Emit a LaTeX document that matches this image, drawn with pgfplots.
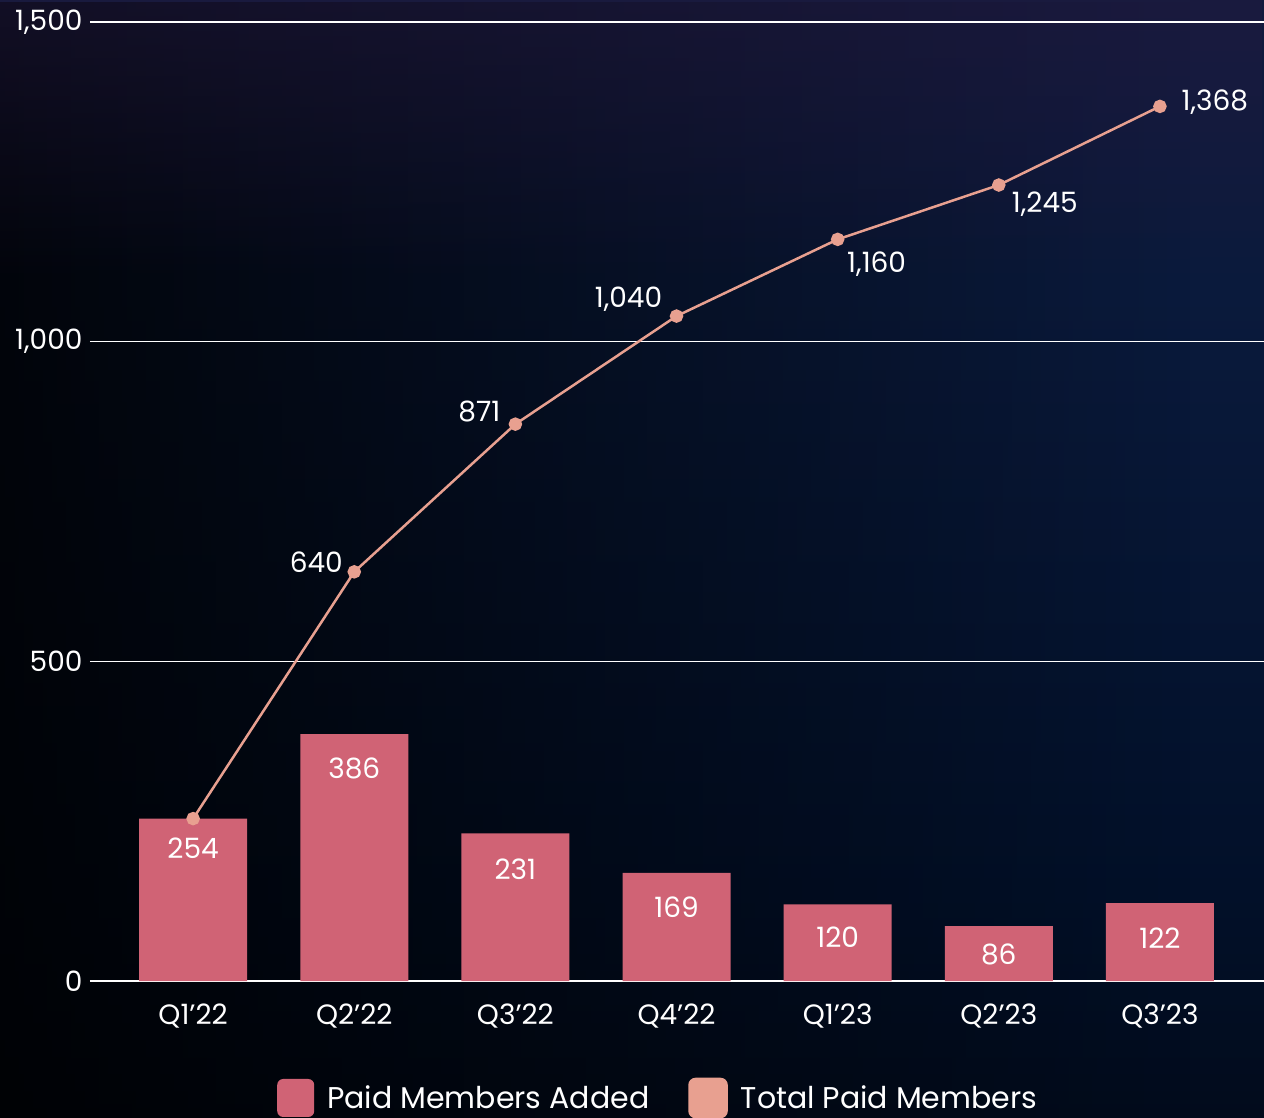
\documentclass[border=0pt]{standalone}
\usepackage{pgfplots}
\pgfplotsset{compat=1.18}
\usepackage{pgfplotstable}
\usepackage{fontspec}
\setmainfont{Poppins}
\usetikzlibrary{fadings}
\definecolor{barc}{HTML}{D06375}
\definecolor{linec}{HTML}{E8A090}
\definecolor{cA}{HTML}{221A40}
\definecolor{cB}{HTML}{0A1A3C}
\definecolor{cC}{HTML}{021029}
\definecolor{cD}{HTML}{03050B}
\pgfdeclareverticalshading{bgv}{100bp}{color(0bp)=(cD); color(12bp)=(cD); color(35bp)=(cC); color(62bp)=(cB); color(100bp)=(cA)}

\pgfplotstableread{
x y dy
0 254 -30
1 386 -34
2 231 -36
3 169 -34
4 120 -33
5 86 -28
6 122 -35
}\bardata

\pgfplotstableread{
x y lab dx dy
0 254 {} 0 0
1 640 640 -38 10
2 871 871 -36 13
3 1040 {1,040} -48 17
4 1160 {1,160} 39 -25
5 1245 {1,245} 46 -19
6 1368 {1,368} 55 4
}\linedata

\begin{document}
\begin{tikzpicture}
\shade[shading=bgv] (-90pt,-136pt) rectangle (1174pt,981pt);
\fill[black, opacity=0.82, path fading=east] (-90pt,-136pt) rectangle (1100pt,981pt);
\fill[cA, opacity=0.5, path fading=south] (-90pt,700pt) rectangle (1174pt,981pt);
\begin{axis}[
  at={(0pt,0pt)}, anchor=south west,
  scale only axis, width=1174pt, height=959pt,
  xmin=-0.64, xmax=6.646, ymin=0, ymax=1500,
  axis line style={draw=none}, tick style={draw=none},
  ytick={0,500,1000,1500},
  ymajorgrids, grid style={white!90, line width=1.3pt},
  xtick={0,...,6},
  xticklabels={Q1’22,Q2’22,Q3’22,Q4’22,Q1’23,Q2’23,Q3’23},
  ticklabel style={text=white, font=\fontsize{28}{34}\selectfont},
  /pgf/number format/assume math mode=true,
  /pgf/number format/.cd, 1000 sep={,}, /pgfplots/.cd,
  yticklabel style={xshift=-4pt},
  xticklabel style={yshift=-19pt},
  clip=false,
  legend columns=2,
  legend style={draw=none, fill=none, text=white, font=\fontsize{30}{36}\selectfont,
    at={(0.484,-0.122)}, anchor=center,
    /tikz/every odd column/.append style={column sep=11pt},
    /tikz/every even column/.append style={column sep=37pt}},
  legend cell align=left,
]
\addplot[ybar, bar width=108pt, fill=barc, draw=none,
  visualization depends on={\thisrow{dy} \as \mydy},
  nodes near coords,
  every node near coord/.append style={anchor=center, yshift=\mydy pt, text=white, font=\fontsize{28}{34}\selectfont},
  legend image code/.code={\fill[barc, rounded corners=6pt] (0pt,-19pt) rectangle (37pt,19pt);}
] table[x=x, y=y] {\bardata};
\addlegendentry{Paid Members Added}
\addplot[linec, line width=2.5pt, mark=*, mark size=5.5pt, mark options={fill=linec, draw=none},
  point meta=explicit symbolic,
  visualization depends on={\thisrow{dx} \as \mydx},
  visualization depends on={\thisrow{dy} \as \mylady},
  nodes near coords,
  every node near coord/.append style={anchor=center, xshift=\mydx pt, yshift=\mylady pt, text=white, font=\fontsize{28}{34}\selectfont},
  legend image code/.code={\fill[linec, rounded corners=6pt] (0pt,-19pt) rectangle (37pt,19pt);}
] table[x=x, y=y, meta=lab] {\linedata};
\addlegendentry{Total Paid Members}
\end{axis}
\pgfresetboundingbox
\useasboundingbox (-90pt,-136pt) rectangle (1174pt,981pt);
\end{tikzpicture}
\end{document}
